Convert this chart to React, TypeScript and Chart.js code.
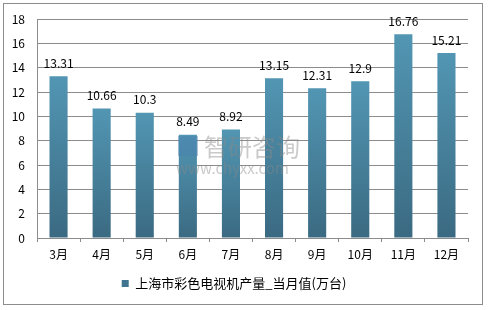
import React, { useEffect, useRef } from "react";
import { Chart, registerables } from "chart.js";

Chart.register(...registerables);

const categories = ["3月", "4月", "5月", "6月", "7月", "8月", "9月", "10月", "11月", "12月"];
const values = [13.31, 10.66, 10.3, 8.49, 8.92, 13.15, 12.31, 12.9, 16.76, 15.21];
const seriesName = "上海市彩色电视机产量_当月值(万台)";
const yMin = 0;
const yMax = 18;
const yStep = 2;

const FONT = "'Noto Sans CJK SC', 'DejaVu Sans', sans-serif";

export default function App() {
  const ref = useRef<HTMLCanvasElement | null>(null);

  useEffect(() => {
    document.body.style.margin = "0";
    const canvas = ref.current!;
    const frame = {
      id: "frame",
      beforeDraw(chart: any) {
        const ctx = chart.ctx;
        ctx.save();
        ctx.fillStyle = "#ffffff";
        ctx.fillRect(0, 0, chart.width, chart.height);
        ctx.strokeStyle = "#8c8c8c";
        ctx.lineWidth = 1;
        ctx.strokeRect(3.5, 3.5, 479, 301);
        ctx.restore();
      },
    };
    const labelsPlugin = {
      id: "valueLabels",
      afterDatasetsDraw(chart: any) {
        const ctx = chart.ctx;
        const meta = chart.getDatasetMeta(0);
        ctx.save();
        // watermark
        ctx.globalAlpha = 0.45;
        ctx.fillStyle = "#8a8a8a";
        ctx.font = `24px ${FONT}`;
        ctx.textAlign = "left";
        ctx.textBaseline = "middle";
        ctx.fillText("智研咨询", 204, 147);
        ctx.font = `15px ${FONT}`;
        ctx.fillText("www.chyxx.com", 176, 168);
        ctx.fillStyle = "#4a7fb0";
        ctx.fillRect(178, 136, 20, 20);
        ctx.globalAlpha = 1;
        ctx.fillStyle = "#000000";
        ctx.font = `12px ${FONT}`;
        ctx.textAlign = "center";
        ctx.textBaseline = "middle";
        meta.data.forEach((el: any, i: number) => {
          ctx.fillText(String(values[i]), el.x, el.y - 13);
        });
        ctx.restore();
      },
    };
    const chart = new Chart(canvas, {
      type: "bar",
      data: {
        labels: categories,
        datasets: [
          {
            label: seriesName,
            data: values,
            barPercentage: 0.42,
            categoryPercentage: 1,
            borderWidth: 0,
            backgroundColor: (c: any) => {
              const ch = c.chart;
              if (!ch.chartArea || c.type !== "data") return "#4a87a3";
              const y = ch.scales.y;
              const top = y.getPixelForValue(c.parsed ? c.parsed.y : values[c.dataIndex]);
              const bottom = y.getPixelForValue(0);
              const g = ch.ctx.createLinearGradient(0, top, 0, bottom);
              g.addColorStop(0, "#5296b3");
              g.addColorStop(1, "#3b6a82");
              return g;
            },
          },
        ],
      },
      options: {
        animation: false,
        responsive: false,
        devicePixelRatio: 1,
        layout: { padding: { top: 18, right: 22, bottom: 10, left: 0 } },
        plugins: {
          legend: {
            position: "bottom",
            labels: {
              boxWidth: 7,
              boxHeight: 7,
              padding: 10,
              color: "#000000",
              font: { family: FONT, size: 13 },
              generateLabels: () => [
                {
                  text: seriesName,
                  fillStyle: "#3f7591",
                  strokeStyle: "#3f7591",
                  lineWidth: 0,
                  datasetIndex: 0,
                  hidden: false,
                },
              ],
            },
          },
          tooltip: { enabled: false },
        },
        scales: {
          x: {
            afterFit: (s: any) => {
              s.height = 29;
            },
            grid: {
              drawOnChartArea: false,
              drawTicks: true,
              tickLength: 4,
              offset: true,
              color: "#8c8c8c",
            },
            border: { color: "#8c8c8c" },
            ticks: {
              color: "#000000",
              padding: 5,
              font: { family: FONT, size: 12 },
            },
          },
          y: {
            min: yMin,
            max: yMax,
            afterFit: (s: any) => {
              s.width = 37;
            },
            grid: { color: "#8c8c8c", drawTicks: false },
            border: { color: "#8c8c8c" },
            ticks: {
              stepSize: yStep,
              padding: 12,
              color: "#000000",
              font: { family: FONT, size: 12 },
            },
          },
        },
      },
      plugins: [frame, labelsPlugin],
    } as any);
    return () => chart.destroy();
  }, []);

  return (
    <div style={{ width: 490, height: 310 }}>
      <canvas ref={ref} width={490} height={310} style={{ display: "block" }} />
    </div>
  );
}
